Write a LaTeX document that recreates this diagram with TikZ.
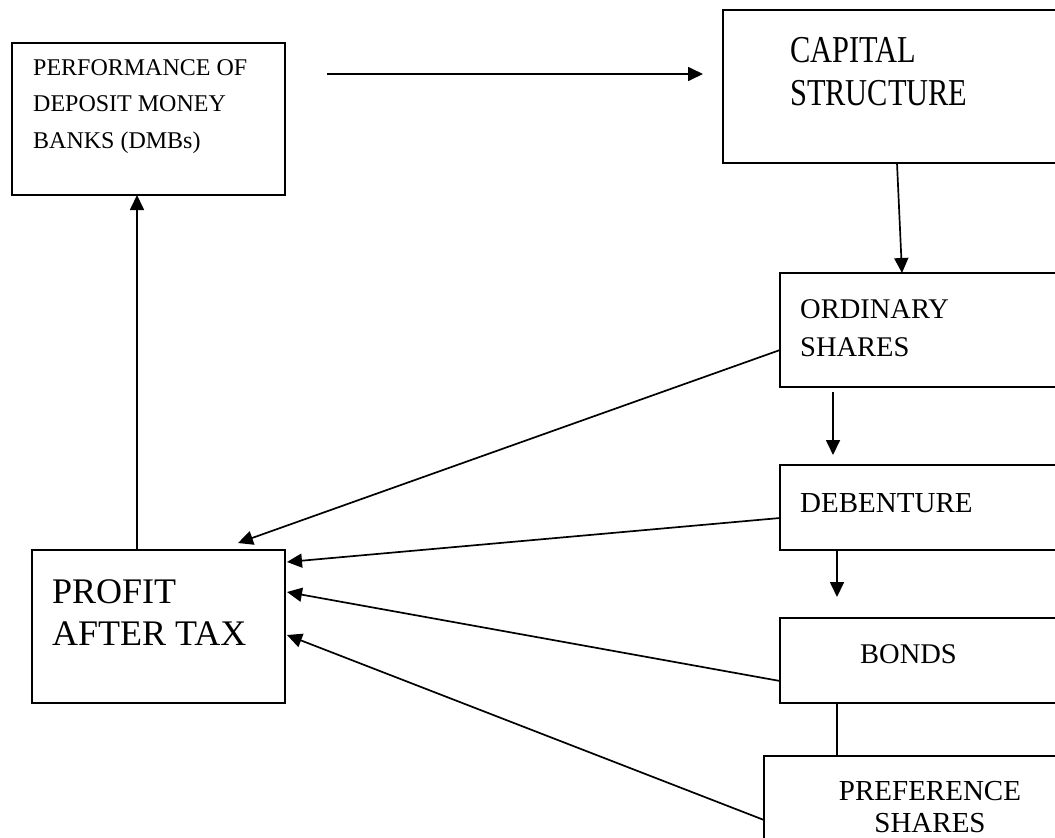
\documentclass[tikz,border=0pt]{standalone}
\usepackage{fontspec}
\setmainfont{Liberation Serif}
\newfontfamily\capfont[FakeStretch=0.8]{Liberation Serif}
\usetikzlibrary{arrows.meta,calc}
\begin{document}
\begin{tikzpicture}[x=1pt,y=-1pt,
  box/.style={draw,line width=1.8pt,rectangle,inner sep=0pt,outer sep=0pt,anchor=north west},
  lbl/.style={inner sep=0pt,anchor=north west,align=left},
  arr/.style={line width=1.7pt,-{Triangle[length=15pt,width=14pt]}},
  plain/.style={line width=1.7pt}]
\useasboundingbox (0,0) rectangle (1055,838);
\clip (0,0) rectangle (1055,838);
% boxes
\node[box,minimum width=273pt,minimum height=152pt] (perf) at (12,43) {};
\node[box,minimum width=400pt,minimum height=153pt] (cap) at (723,10) {};
\node[box,minimum width=400pt,minimum height=114pt] (ord) at (780,273) {};
\node[box,minimum width=400pt,minimum height=85pt] (deb) at (780,465) {};
\node[box,minimum width=400pt,minimum height=85pt] (bonds) at (780,618) {};
\node[box,minimum width=400pt,minimum height=150pt] (pref) at (764,756) {};
\node[box,minimum width=253pt,minimum height=153pt] (profit) at (32,550) {};
% texts
\node[lbl,font=\fontsize{24}{36.5}\selectfont] (tperf) at (33,59) {PERFORMANCE OF\\DEPOSIT MONEY\\BANKS (DMBs)};
\node[lbl,font=\capfont\fontsize{38}{43}\selectfont] (tcap) at (790,37) {CAPITAL\\STRUCTURE};
\node[lbl,font=\fontsize{28.5}{38}\selectfont] (tord) at (800,299) {ORDINARY\\SHARES};
\node[lbl,font=\fontsize{29}{38}\selectfont] (tdeb) at (800,493) {DEBENTURE};
\node[lbl,font=\fontsize{28.5}{38}\selectfont] (tbonds) at (860,644) {BONDS};
\node[inner sep=0pt,anchor=north,align=center,font=\fontsize{29}{32}\selectfont] (tpref) at (930,781) {PREFERENCE\\SHARES};
\node[lbl,font=\fontsize{36}{42}\selectfont] (tprofit) at (52,579.5) {PROFIT\\AFTER TAX};
% free ends
\coordinate (a1) at ($(perf.north east)+(42,31)$);
\coordinate (a2) at ($(cap.north west)+(-20,64)$);
\coordinate (b1) at ($(ord.south west)+(53,5)$);
\coordinate (b2) at ($(deb.north west)+(53,-10)$);
\coordinate (c1) at ($(deb.south west)+(57,0)$);
\coordinate (c2) at ($(bonds.north west)+(57,-21)$);
% connectors
\draw[arr] (a1) -- (a2);
\draw[arr] ($(cap.south west)+(174,0)$) -- ($(ord.north west)+(122,0)$);
\draw[arr] (b1) -- (b2);
\draw[arr] (c1) -- (c2);
\draw[plain] ($(bonds.south west)+(57,0)$) -- ($(pref.north west)+(73,0)$);
\draw[arr] ($(profit.north west)+(105,0)$) -- ($(perf.south west)+(125,0)$);
\draw[arr] ($(ord.north west)+(0,77)$) -- ($(profit.north east)+(-47,-7)$);
\draw[arr] ($(deb.north west)+(0,53)$) -- ($(profit.north east)+(2,12)$);
\draw[arr] ($(bonds.north west)+(0,63)$) -- ($(profit.north east)+(2,42)$);
\draw[arr] ($(pref.north west)+(0,64)$) -- ($(profit.north east)+(2,85)$);
\end{tikzpicture}
\end{document}
